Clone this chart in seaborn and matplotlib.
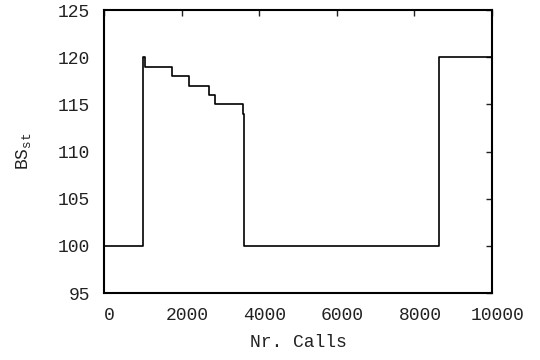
import matplotlib
matplotlib.use('Agg')
import matplotlib.pyplot as plt
import matplotlib.transforms as mtransforms
import seaborn as sns
import pandas as pd

# step change points (Nr. Calls) and the BS_st value from each point on
calls = [0, 1000, 1050, 1750, 2200, 2700, 2850, 3580, 3610, 8640, 10000]
bs_st = [100, 120, 119, 118, 117, 116, 115, 114, 100, 120, 120]

x_ticks = [0, 2000, 4000, 6000, 8000, 10000]
y_ticks = [95, 100, 105, 110, 115, 120, 125]

sns.set_style('white')
plt.rcParams['font.family'] = ['Liberation Mono', 'DejaVu Sans Mono']
plt.rcParams['mathtext.fontset'] = 'custom'
plt.rcParams['mathtext.rm'] = 'Liberation Mono'
plt.rcParams['mathtext.it'] = 'Liberation Mono'

df = pd.DataFrame({'calls': calls, 'bs': bs_st})

fig = plt.figure(figsize=(5.4, 3.6), dpi=100)
ax = fig.add_axes([0.1926, 0.186, 0.7185, 0.786])

sns.lineplot(data=df, x='calls', y='bs', drawstyle='steps-post', sort=False,
             color='black', linewidth=1.2, ax=ax)

ax.set_xlim(0, 10000)
ax.set_ylim(95, 125)
ax.set_xticks(x_ticks)
ax.set_yticks(y_ticks)
ax.tick_params(direction='in', length=4, width=1, top=True, right=True,
               labelsize=13, colors='#222222')
ax.tick_params(axis='x', pad=10)
ax.tick_params(axis='y', pad=10)
for s in ax.spines.values():
    s.set_linewidth(1.5)
    s.set_color('black')

# gnuplot draws the x labels a little to the right of the ticks
shift = mtransforms.ScaledTranslation(5.5 / 100, 0, fig.dpi_scale_trans)
for lab in ax.get_xticklabels():
    lab.set_transform(lab.get_transform() + shift)

ax.set_xlabel('Nr. Calls', fontsize=13, labelpad=7, color='#222222')
ax.set_ylabel(r'BS$_{\rm st}$', fontsize=13, labelpad=18, color='#222222')

fig.savefig('out.png', dpi=100)
